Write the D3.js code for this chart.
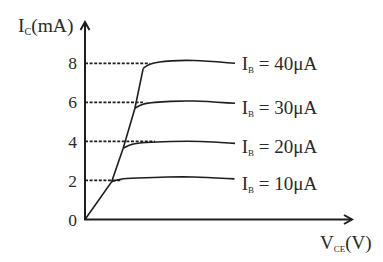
<!DOCTYPE html>
<html>
<head>
<meta charset="utf-8">
<script src="https://cdn.jsdelivr.net/npm/d3@7"></script>
<style>
  html,body{margin:0;padding:0;background:#fff;}
  svg{display:block;}
  text{font-family:"Liberation Serif","DejaVu Serif",serif;fill:#2a2a2a;}
</style>
</head>
<body>
<svg id="chart" width="383" height="262"></svg>
<script>
// ---- data (V_CE in arbitrary units, I_C in mA) ----
const yTicks = [0, 2, 4, 6, 8];
const baseCurrents = ["10", "20", "30", "40"];          // µA
const saturation = [[0,0],[1.0,1.94],[1.43,3.65],[1.87,5.70],[2.18,7.74]];
const curve10 = [[1.0,1.94],[1.3,2.08],[1.8,2.12],[3.2,2.18],[3.9,2.20],[5.6,2.08]];
const curve20 = [[1.43,3.65],[1.75,3.88],[2.2,3.95],[3.18,4.0],[4.31,4.02],[5.62,3.90]];
const curve30 = [[1.87,5.70],[2.15,5.93],[2.6,6.0],[3.18,6.05],[3.93,6.10],[5.62,5.95]];
const curve40 = [[2.18,7.74],[2.40,7.98],[2.8,8.08],[3.18,8.12],[3.93,8.18],[5.62,8.00]];
const dashLevels = [2, 4, 6, 8];
const dashEnds = [1.39, 2.62, 2.17, 2.43];
const labelAnchors = [1.51, 3.42, 5.40, 7.66];          // I_C value at label baseline
const labelV = 5.87;

// ---- scales ----
const x = d3.scaleLinear().domain([0, 10]).range([85, 352]);
const y = d3.scaleLinear().domain([0, 8]).range([219.5, 63.3]);

const svg = d3.select("#chart");
const ink = "#1e1e1e";

// dashed guide lines
svg.append("g").selectAll("line").data(dashLevels).join("line")
  .attr("x1", x(0)).attr("x2", (d,i) => x(dashEnds[i]))
  .attr("y1", d => y(d)).attr("y2", d => y(d))
  .attr("stroke", ink).attr("stroke-width", 1.7)
  .attr("stroke-dasharray", "3,1.6");

// axes
const axisTop = 22, axisRight = 352;
svg.append("line").attr("x1", x(0)).attr("y1", y(0)).attr("x2", x(0)).attr("y2", axisTop)
  .attr("stroke", ink).attr("stroke-width", 2);
svg.append("line").attr("x1", x(0) - 1).attr("y1", y(0)).attr("x2", axisRight).attr("y2", y(0))
  .attr("stroke", ink).attr("stroke-width", 2);
// arrowheads
svg.append("path")
  .attr("d", `M${x(0)-4.5},${axisTop+8} L${x(0)},${axisTop} L${x(0)+4.5},${axisTop+8}`)
  .attr("fill", "none").attr("stroke", ink).attr("stroke-width", 2);
svg.append("path")
  .attr("d", `M${axisRight-8},${y(0)-4.5} L${axisRight},${y(0)} L${axisRight-8},${y(0)+4.5}`)
  .attr("fill", "none").attr("stroke", ink).attr("stroke-width", 2);

// y tick labels
svg.append("g").selectAll("text").data(yTicks).join("text")
  .attr("x", 77).attr("y", d => y(d)).attr("dy", "0.35em")
  .attr("text-anchor", "end").attr("font-size", 17.5)
  .text(d => d);

// curves
const lineLin = d3.line().x(d => x(d[0])).y(d => y(d[1]));
const lineCurve = d3.line().x(d => x(d[0])).y(d => y(d[1])).curve(d3.curveBasis);
svg.append("path").attr("d", lineLin(saturation))
  .attr("fill", "none").attr("stroke", ink).attr("stroke-width", 1.6);
[curve10, curve20, curve30, curve40].forEach(c => {
  svg.append("path").attr("d", lineCurve(c))
    .attr("fill", "none").attr("stroke", ink).attr("stroke-width", 1.6);
});

// series labels
baseCurrents.forEach((b, i) => {
  const t = svg.append("text").attr("x", x(labelV)).attr("y", y(labelAnchors[i]))
    .attr("font-size", 19);
  t.append("tspan").text("I");
  t.append("tspan").attr("font-size", 9).attr("dy", 3).text("B");
  t.append("tspan").attr("dy", -3).text(" = " + b + "μA");
});

// axis titles
const yt = svg.append("text").attr("x", 18).attr("y", 32).attr("font-size", 19.5);
yt.append("tspan").text("I");
yt.append("tspan").attr("font-size", 10).attr("dy", 3).text("C");
yt.append("tspan").attr("dy", -3).text("(mA)");

const xt = svg.append("text").attr("x", 320).attr("y", 249).attr("font-size", 19);
xt.append("tspan").text("V");
xt.append("tspan").attr("font-size", 9).attr("dy", 3).text("CE");
xt.append("tspan").attr("dy", -3).text("(V)");
</script>
</body>
</html>
